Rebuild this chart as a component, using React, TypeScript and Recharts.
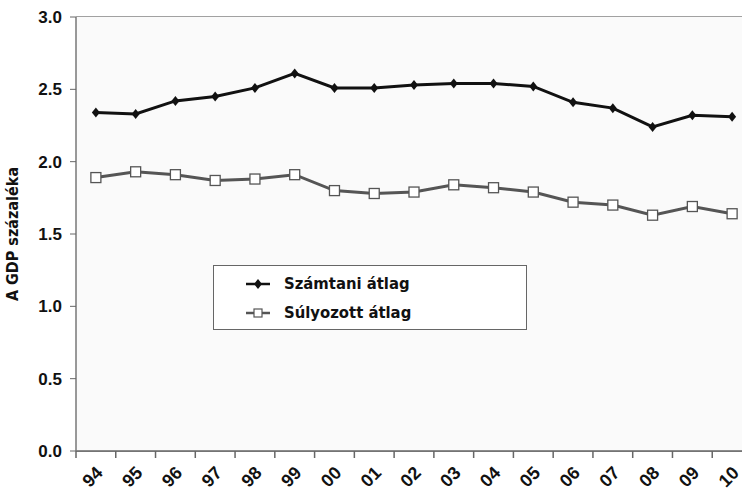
import { CartesianGrid, Line, LineChart, XAxis, YAxis } from 'recharts';

const years = ['94', '95', '96', '97', '98', '99', '00', '01', '02', '03', '04', '05', '06', '07', '08', '09', '10'];
const szamtani = [2.34, 2.33, 2.42, 2.45, 2.51, 2.61, 2.51, 2.51, 2.53, 2.54, 2.54, 2.52, 2.41, 2.37, 2.24, 2.32, 2.31];
const sulyozott = [1.89, 1.93, 1.91, 1.87, 1.88, 1.91, 1.80, 1.78, 1.79, 1.84, 1.82, 1.79, 1.72, 1.70, 1.63, 1.69, 1.64];
const yTicks = [0, 0.5, 1, 1.5, 2, 2.5, 3];
const seriesNames = ['Számtani átlag', 'Súlyozott átlag'];

const data = years.map((y, i) => ({ year: y, szamtani: szamtani[i], sulyozott: sulyozott[i] }));

const condensed = '"DejaVu Sans Condensed", "DejaVu Sans", sans-serif';
const BAND = 676 / 17;

const Diamond = (props: any) => {
  const { cx, cy } = props;
  if (cx == null || cy == null) return null;
  return <path d={`M${cx},${cy - 5} L${cx + 4},${cy} L${cx},${cy + 5} L${cx - 4},${cy} Z`} fill="#111" />;
};

const Square = (props: any) => {
  const { cx, cy } = props;
  if (cx == null || cy == null) return null;
  return <rect x={cx - 5} y={cy - 5} width={10} height={10} fill="#fff" stroke="#555" strokeWidth={1.3} />;
};

const XTick = (props: any) => {
  const { x, y, payload } = props;
  const ax = x + 8;
  const ay = y + 15;
  return (
    <g>
      <line x1={x - BAND / 2} y1={y - 8} x2={x - BAND / 2} y2={y - 1} stroke="#666" strokeWidth={1.5} />
      <text
        x={ax}
        y={ay}
        textAnchor="end"
        transform={`rotate(-45, ${ax}, ${ay})`}
        fontFamily='"Liberation Sans", Arial, sans-serif'
        fontWeight="bold"
        fontSize={18}
        fill="#111"
      >
        {payload.value}
      </text>
    </g>
  );
};

const LegendBox = () => (
  <div
    style={{
      position: 'absolute',
      left: 213,
      top: 265,
      width: 314,
      height: 65,
      border: '1px solid #666',
      background: '#fff',
      boxSizing: 'border-box',
      paddingTop: 3,
    }}
  >
    {seriesNames.map((name, i) => {
      const black = i === 0;
      return (
        <div key={name} style={{ display: 'flex', alignItems: 'center', height: 29, paddingLeft: 32 }}>
          <svg width={24} height={12} style={{ marginRight: 14 }}>
            <line x1={0} y1={6} x2={24} y2={6} stroke={black ? '#111' : '#555'} strokeWidth={2.5} />
            {black ? (
              <path d="M12,1 L16,6 L12,11 L8,6 Z" fill="#111" />
            ) : (
              <rect x={8} y={2} width={8} height={8} fill="#fff" stroke="#555" strokeWidth={1.2} />
            )}
          </svg>
          <span style={{ fontFamily: condensed, fontWeight: 'bold', fontSize: 16.5, color: '#111' }}>{name}</span>
        </div>
      );
    })}
  </div>
);

export default function App() {
  return (
    <div style={{ position: 'absolute', left: 0, top: 0, width: 742, height: 493, overflow: 'hidden', background: '#fff' }}>
      <LineChart width={760} height={493} data={data} margin={{ top: 17, right: 8, bottom: 0, left: 0 }}>
        <rect x={76} y={17} width={676} height={434} fill="#fafafa" />
        <CartesianGrid vertical={false} stroke="#444" strokeWidth={1.2} />
        <XAxis
          dataKey="year"
          height={42}
          interval={0}
          padding={{ left: BAND / 2, right: BAND / 2 }}
          tickLine={false}
          axisLine={{ stroke: '#666', strokeWidth: 1.5 }}
          tick={<XTick />}
        />
        <YAxis
          domain={[0, 3]}
          ticks={yTicks}
          width={76}
          tickFormatter={(v: number) => v.toFixed(1)}
          tick={{ fontFamily: '"Liberation Sans", Arial, sans-serif', fontWeight: 'bold', fontSize: 17, fill: '#111' }}
          tickLine={{ stroke: '#666' }}
          tickSize={6}
          tickMargin={8}
          axisLine={{ stroke: '#777', strokeWidth: 1.5 }}
          label={{
            value: 'A GDP százaléka',
            angle: -90,
            position: 'insideLeft',
            offset: 12,
            style: { fontFamily: condensed, fontWeight: 'bold', fontSize: 16, fill: '#111', textAnchor: 'middle' },
          }}
        />
        <Line
          dataKey="szamtani"
          name={seriesNames[0]}
          stroke="#111"
          strokeWidth={3}
          dot={<Diamond />}
          activeDot={false}
          isAnimationActive={false}
        />
        <Line
          dataKey="sulyozott"
          name={seriesNames[1]}
          stroke="#555"
          strokeWidth={3}
          dot={<Square />}
          activeDot={false}
          isAnimationActive={false}
        />
      </LineChart>
      <LegendBox />
    </div>
  );
}
